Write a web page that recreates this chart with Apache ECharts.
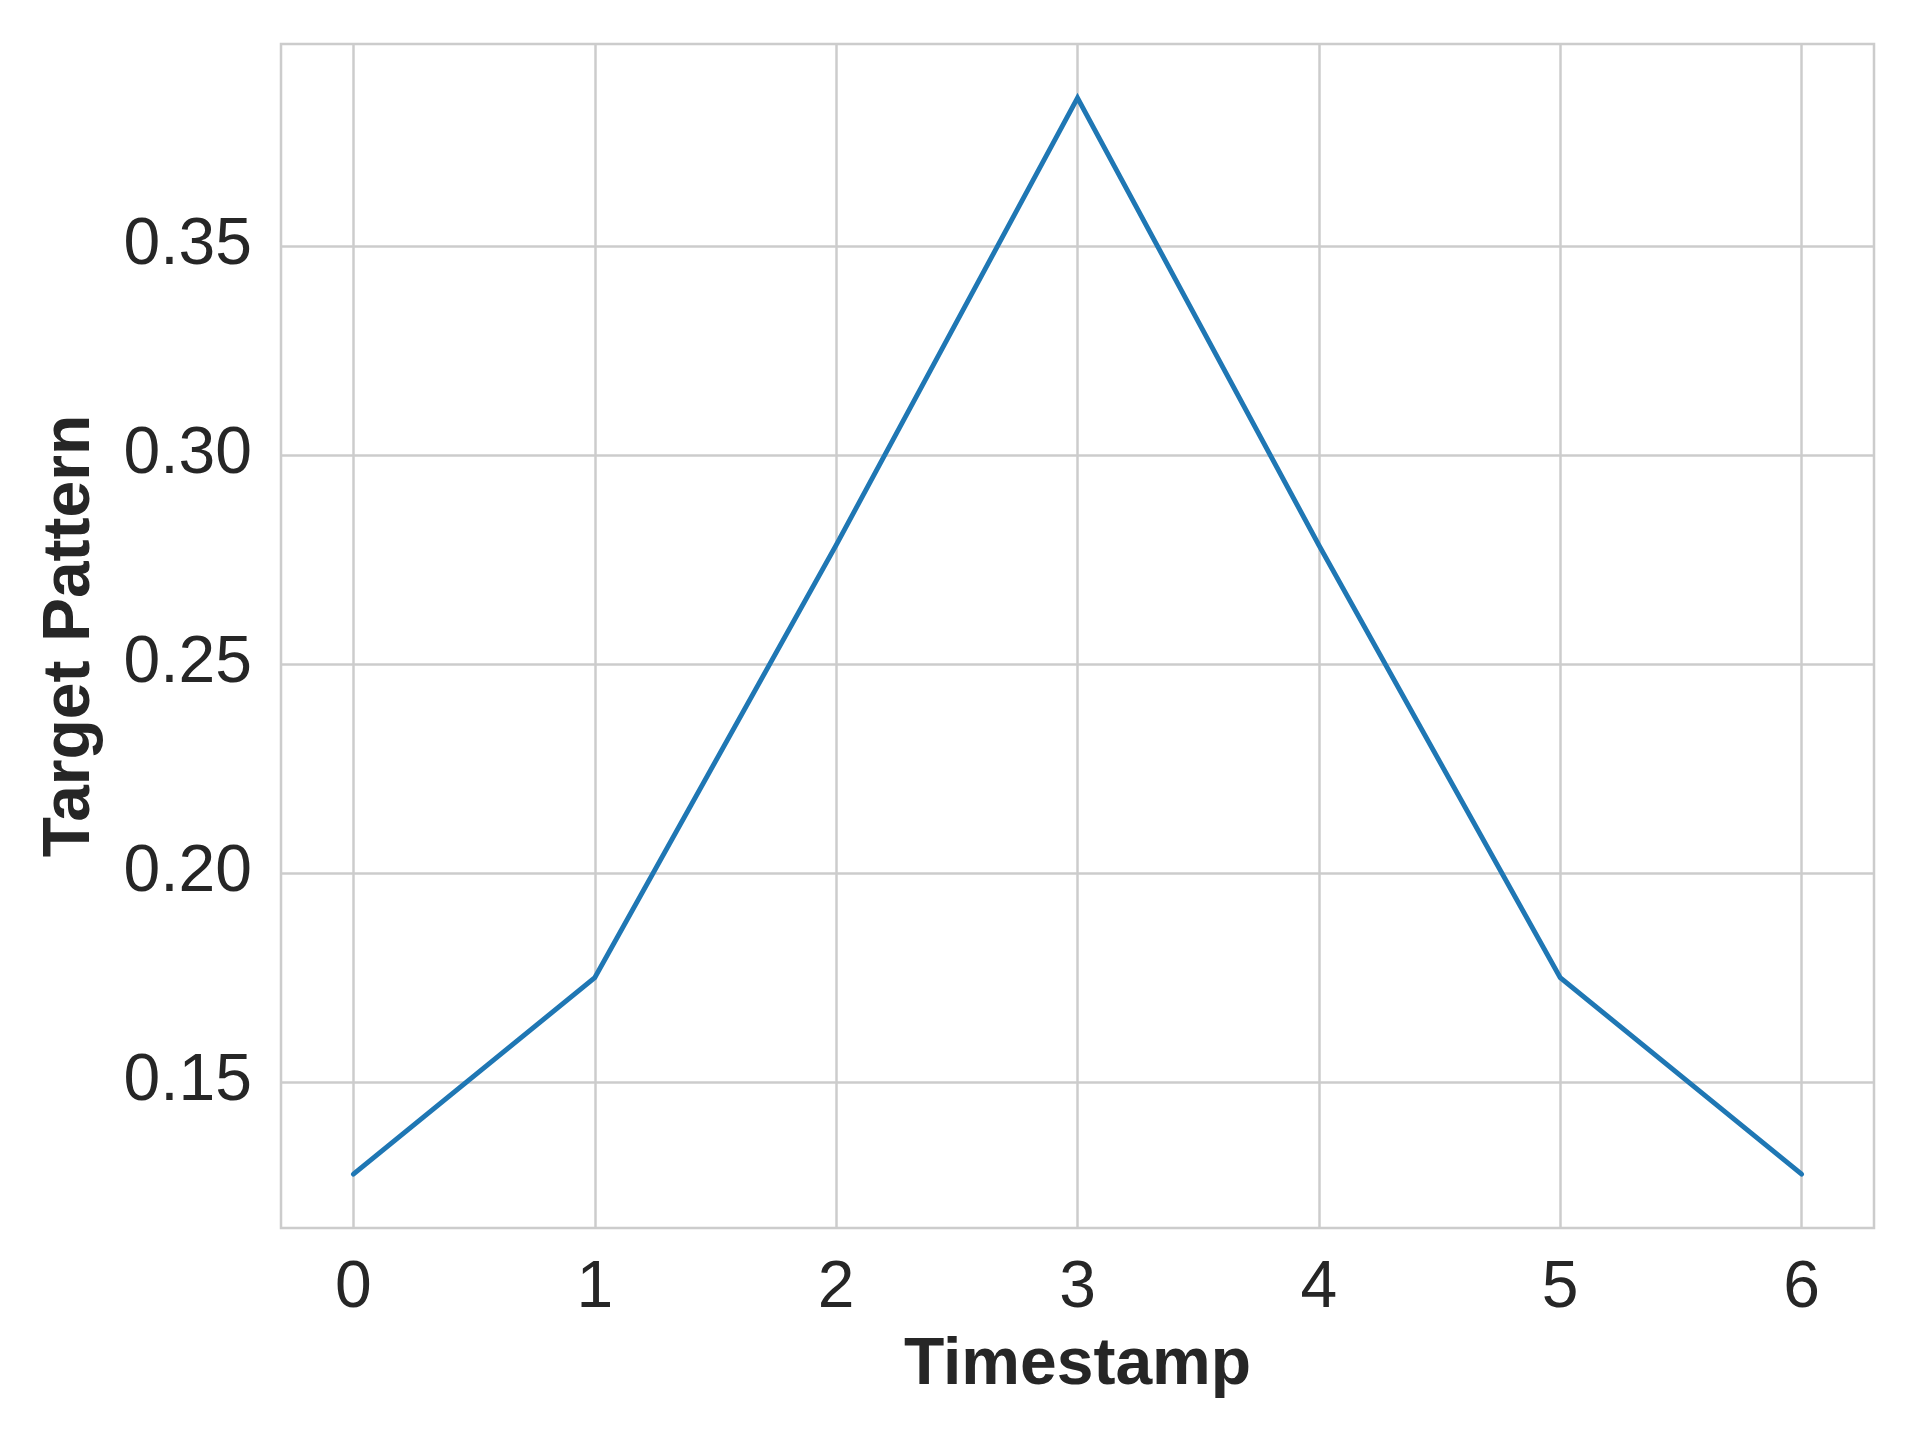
<!DOCTYPE html>
<html>
<head>
    <meta charset="utf-8">
    <title>Target Pattern</title>
    <script src="https://cdn.jsdelivr.net/npm/echarts@6.0.0/dist/echarts.min.js"></script>
    <style>
        html, body { margin: 0; padding: 0; background: #fff; }
        #chart { width: 1920px; height: 1440px; }
    </style>
</head>
<body>
    <div id="chart"></div>
    <script>
        // 数据
        const timestamps = [0, 1, 2, 3, 4, 5, 6];
        const targetPattern = [0.128, 0.175, 0.2785, 0.3855, 0.2785, 0.175, 0.128];
        const xTicks = [0, 1, 2, 3, 4, 5, 6];
        const yTicks = [0.15, 0.20, 0.25, 0.30, 0.35];

        const chart = echarts.init(document.getElementById('chart'));
        const font = '"Liberation Sans", Arial, sans-serif';
        const gridColor = '#cccccc';

        const option = {
            backgroundColor: '#ffffff',
            animation: false,
            grid: {
                left: 281, right: 46, top: 44, bottom: 212,
                show: true,
                borderColor: gridColor,
                borderWidth: 2.5,
                backgroundColor: 'transparent'
            },
            xAxis: {
                type: 'value',
                min: -0.3,
                max: 6.3,
                name: 'Timestamp',
                nameLocation: 'middle',
                nameGap: 105,
                nameTextStyle: { fontFamily: font, fontSize: 66, fontWeight: 'bold', color: '#262626' },
                axisLine: { show: false },
                axisTick: { show: false, customValues: xTicks },
                axisLabel: {
                    customValues: xTicks,
                    margin: 28,
                    fontFamily: font, fontSize: 66, color: '#262626'
                },
                splitLine: { show: true, lineStyle: { color: gridColor, width: 2.5 } }
            },
            yAxis: {
                type: 'value',
                min: 0.1151,
                max: 0.3984,
                name: 'Target Pattern',
                nameLocation: 'middle',
                nameGap: 177,
                nameTextStyle: { fontFamily: font, fontSize: 66, fontWeight: 'bold', color: '#262626' },
                axisLine: { show: false },
                axisTick: { show: false, customValues: yTicks },
                axisLabel: {
                    customValues: yTicks,
                    margin: 29,
                    fontFamily: font, fontSize: 66, color: '#262626',
                    formatter: v => v.toFixed(2)
                },
                splitLine: { show: true, lineStyle: { color: gridColor, width: 2.5 } }
            },
            series: [{
                type: 'line',
                data: timestamps.map((t, i) => [t, targetPattern[i]]),
                showSymbol: false,
                lineStyle: { color: '#1f77b4', width: 5, cap: 'round', join: 'miter' },
                itemStyle: { color: '#1f77b4' }
            }]
        };

        chart.setOption(option);
    </script>
</body>
</html>
